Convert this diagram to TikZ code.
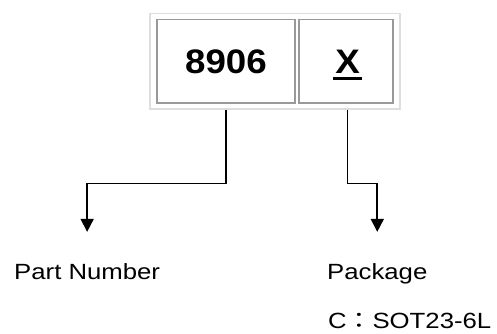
\documentclass[tikz,border=0pt]{standalone}
\usepackage{fontspec}
\setmainfont{Liberation Sans}[FakeStretch=1.17]
\newfontfamily\bigfont{Liberation Sans}[FakeStretch=1.08]
\newfontfamily\cjk{Noto Sans CJK TC}[FakeStretch=1.17]
\usetikzlibrary{arrows.meta}
\tikzset{
  outerframe/.style={draw=black!13, line width=1.1pt, minimum width=250pt, minimum height=95.5pt, inner sep=0pt},
  cellbox/.style={draw=black!40, line width=1.3pt, minimum height=83.5pt, inner sep=0pt},
  bigtext/.style={font=\bigfont\fontsize{34}{40}\selectfont\bfseries, inner sep=0pt, anchor=base},
  label/.style={font=\fontsize{22}{26}\selectfont, inner sep=0pt},
  conn/.style={line width=1.6pt, -{Triangle[width=13pt,length=13pt]}}
}
\begin{document}
\begin{tikzpicture}[x=1pt,y=1pt]
\useasboundingbox (0,0) rectangle (497,-334);
\node[outerframe] (fr) at (275,-61.25) {};
\node[cellbox, minimum width=138pt] (c1) at (226,-61.25) {};
\node[cellbox, minimum width=94pt] (c2) at (346,-61.25) {};
\node[bigtext] (t1) at (226,-73.3) {8906};
\node[bigtext] (t2) at (347.5,-73.3) {\rlap{\kern-2pt\rule[-6.3pt]{28.5pt}{2.8pt}}X};
\node[label, anchor=base west] (pn) at (14,-279) {Part Number};
\node[label, anchor=base west] (pk) at (327,-279) {Package};
\node[label, anchor=base west] (so) at (328,-328) {C{\cjk ：}SOT23-6L};
\coordinate (a1) at ([yshift=31pt]pn.north);
\coordinate (a2) at ([yshift=31pt]pk.north);
\draw[conn] (fr.south -| c1.south) -- ++(0,-74) -| (a1);
\draw[conn] (fr.south -| t2.south) -- ++(0,-74) -| (a2);
\end{tikzpicture}
\end{document}
